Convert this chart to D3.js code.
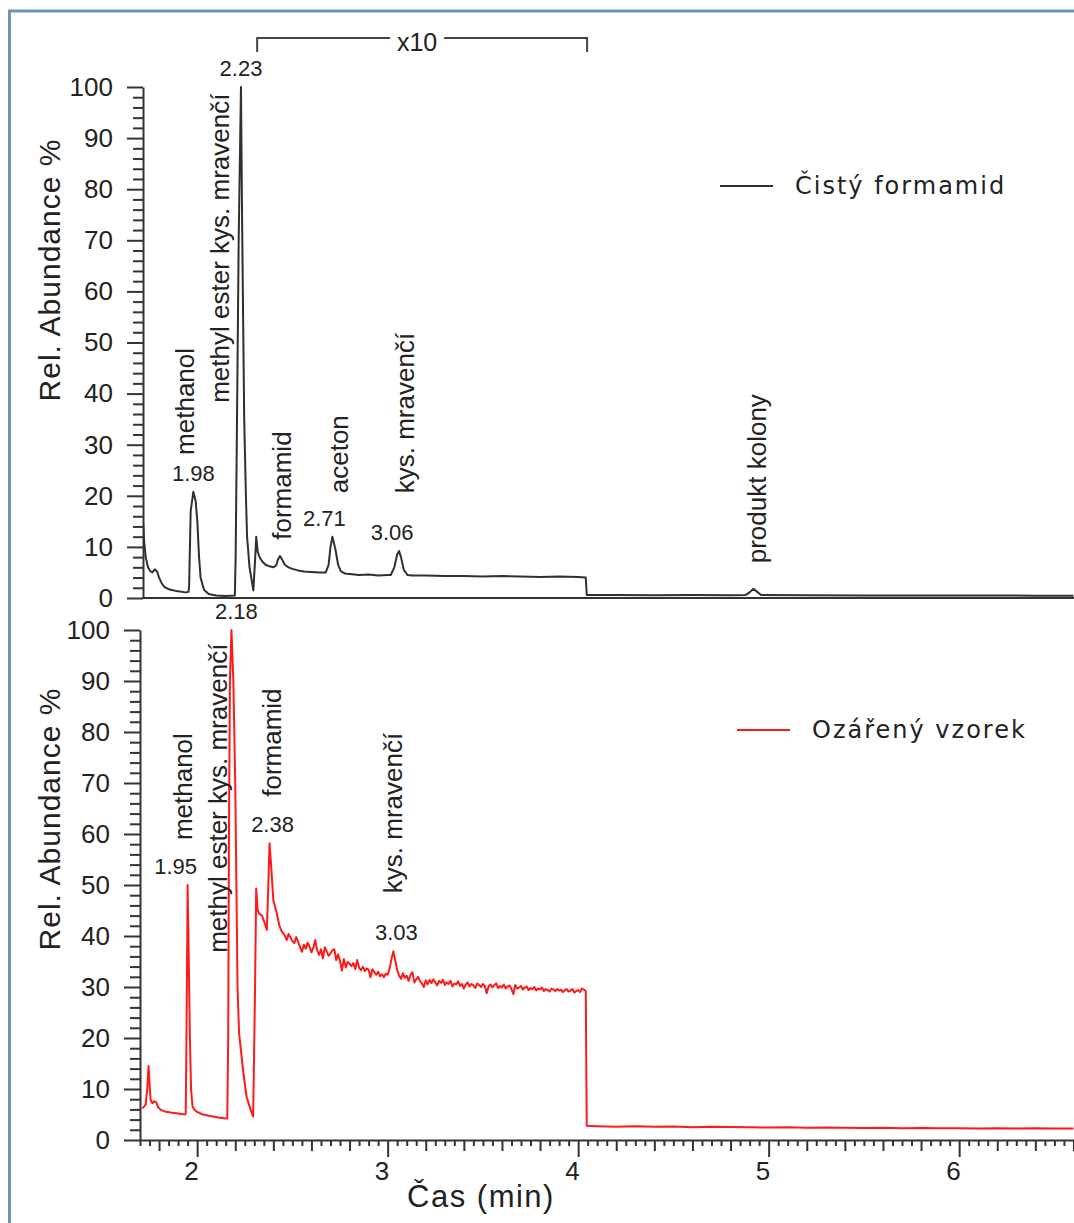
<!DOCTYPE html>
<html>
<head>
<meta charset="utf-8">
<script src="https://cdn.jsdelivr.net/npm/d3@7"></script>
<style>
  html, body { margin: 0; padding: 0; background: #fff; }
  svg { display: block; }
  text { font-family: "Liberation Sans", Arial, sans-serif; fill: #222; }
</style>
</head>
<body>
<div id="chart"></div>
<script>
// Chromatogram of the pure formamide blank: [time (min), relative abundance %]
const blankTrace = [
  [1.717, 14.5], [1.722, 11], [1.73, 8], [1.742, 6], [1.755, 5.2], [1.765, 5.0],
  [1.778, 5.6], [1.79, 5.2], [1.80, 4.0], [1.815, 2.8], [1.83, 2.1], [1.86, 1.6],
  [1.90, 1.3], [1.94, 1.1], [1.955, 1.2], [1.958, 2.5], [1.966, 17], [1.98, 20.8],
  [1.992, 19], [2.001, 15], [2.01, 8], [2.018, 4], [2.036, 1.6], [2.06, 0.8],
  [2.10, 0.5], [2.15, 0.4], [2.198, 0.5], [2.202, 8], [2.208, 30], [2.218, 70],
  [2.23, 100], [2.237, 70], [2.247, 35], [2.256, 20], [2.262, 12], [2.275, 6],
  [2.295, 1.5], [2.305, 8], [2.31, 12], [2.318, 9], [2.33, 7.8], [2.345, 7],
  [2.36, 6.5], [2.38, 6.2], [2.40, 6.0], [2.415, 6.4], [2.425, 7.6], [2.435, 8.2],
  [2.445, 7.6], [2.46, 6.5], [2.48, 6.0], [2.50, 5.7], [2.53, 5.4], [2.56, 5.2],
  [2.60, 5.1], [2.64, 5.0], [2.675, 5.0], [2.69, 6.5], [2.70, 10], [2.71, 12],
  [2.726, 9.5], [2.74, 6.5], [2.755, 5.2], [2.775, 4.8], [2.80, 4.7],
  [2.85, 4.5], [2.90, 4.6], [2.95, 4.4], [3.00, 4.5], [3.016, 4.5], [3.035, 6],
  [3.05, 8.5], [3.06, 9.2], [3.07, 8], [3.085, 5.5], [3.104, 4.5], [3.13, 4.4],
  [3.2, 4.4], [3.3, 4.3], [3.4, 4.3], [3.5, 4.2], [3.6, 4.3], [3.7, 4.2],
  [3.8, 4.1], [3.9, 4.2], [4.0, 4.1], [4.04, 4.0], [4.045, 0.6], [4.2, 0.6],
  [4.4, 0.55], [4.6, 0.6], [4.8, 0.55], [4.88, 0.6], [4.90, 1.1], [4.92, 1.8],
  [4.94, 1.2], [4.96, 0.6], [5.2, 0.55], [5.5, 0.5], [5.8, 0.5], [6.1, 0.5],
  [6.4, 0.45], [6.6, 0.45]
];

// Chromatogram of the irradiated sample: [time (min), relative abundance %]
const irradiatedTrace = [
  [1.712, 6.2], [1.72, 6.5], [1.73, 7.0], [1.738, 10], [1.745, 14.5], [1.75, 11],
  [1.756, 7.8], [1.765, 7.2], [1.775, 7.6], [1.785, 7.4], [1.795, 6.4], [1.81, 5.9],
  [1.83, 5.6], [1.86, 5.4], [1.90, 5.2], [1.935, 5.0], [1.94, 5.2], [1.944, 20],
  [1.95, 50], [1.956, 35], [1.962, 20], [1.968, 10], [1.976, 6.5], [1.99, 5.8],
  [2.0, 5.5], [2.03, 5.0], [2.07, 4.7], [2.11, 4.4], [2.15, 4.2], [2.158, 4.2],
  [2.163, 20], [2.167, 60], [2.172, 90], [2.18, 100], [2.19, 90], [2.20, 70],
  [2.206, 50], [2.212, 30], [2.22, 21], [2.241, 13.7], [2.259, 8.5], [2.28, 6],
  [2.294, 4.6], [2.304, 30],
  [2.31, 49.3], [2.318, 45], [2.325, 44.4], [2.34, 44], [2.355, 42.5], [2.366, 41.2],
  [2.372, 48], [2.38, 58.2], [2.388, 54], [2.40, 47], [2.418, 44.4], [2.432, 42],
  [2.445, 40.8],
  [2.45, 40.6], [2.46, 40.1], [2.47, 39.2], [2.48, 40.4], [2.49, 39.7], [2.50, 39.0],
  [2.51, 38.6], [2.52, 39.8], [2.53, 38.9], [2.54, 37.8], [2.55, 36.9], [2.56, 38.3],
  [2.57, 37.5], [2.58, 38.7], [2.59, 37.9], [2.60, 36.8], [2.61, 37.7], [2.62, 39.2],
  [2.63, 37.2], [2.64, 36.3], [2.65, 37.4], [2.66, 35.6], [2.67, 37.8], [2.68, 37.0],
  [2.69, 36.1], [2.70, 36.6], [2.71, 37.2], [2.72, 37.4], [2.73, 35.3], [2.74, 36.4],
  [2.75, 35.1], [2.76, 33.2], [2.77, 35.5], [2.78, 33.8], [2.79, 34.9], [2.80, 34.6],
  [2.81, 34.1], [2.82, 34.7], [2.83, 33.5], [2.84, 35.3], [2.85, 33.8], [2.86, 33.3],
  [2.87, 34.0], [2.88, 33.1], [2.89, 33.6], [2.90, 33.4], [2.91, 31.9], [2.92, 33.5],
  [2.93, 32.9], [2.94, 32.4], [2.95, 33.0], [2.96, 32.1], [2.97, 32.5], [2.98, 31.9],
  [2.99, 32.6], [3.00, 32.4], [3.01, 33.5], [3.02, 35.5], [3.03, 37.0], [3.04, 35.2],
  [3.05, 33.4], [3.06, 32.2], [3.07, 31.6], [3.08, 32.7], [3.09, 31.8], [3.10, 32.2],
  [3.11, 31.2], [3.12, 32.4], [3.13, 32.9], [3.14, 30.9], [3.15, 31.5], [3.16, 32.0],
  [3.17, 31.1], [3.18, 30.7], [3.19, 30.0], [3.20, 31.3], [3.21, 30.5], [3.22, 31.4],
  [3.23, 30.8], [3.24, 31.5], [3.25, 30.9], [3.26, 30.3], [3.27, 31.2], [3.28, 30.8],
  [3.29, 31.4], [3.30, 30.4], [3.31, 30.9], [3.32, 30.6], [3.33, 31.2], [3.34, 30.1],
  [3.35, 30.7], [3.36, 30.5], [3.37, 31.1], [3.38, 30.2], [3.39, 30.6], [3.40, 29.7],
  [3.41, 30.5], [3.42, 30.9], [3.43, 30.1], [3.44, 30.6], [3.45, 30.3], [3.46, 29.8],
  [3.47, 30.7], [3.48, 30.4], [3.49, 30.0], [3.50, 30.6], [3.51, 30.2], [3.52, 28.8],
  [3.53, 30.1], [3.54, 30.5], [3.55, 29.9], [3.56, 30.4], [3.57, 30.7], [3.58, 29.8],
  [3.59, 30.2], [3.60, 29.9], [3.61, 30.5], [3.62, 29.7], [3.63, 30.1], [3.64, 30.3],
  [3.65, 29.6], [3.66, 28.6], [3.67, 30.4], [3.68, 29.7], [3.69, 29.9], [3.70, 30.2],
  [3.71, 29.5], [3.72, 29.9], [3.73, 30.1], [3.74, 29.4], [3.75, 29.8], [3.76, 29.6],
  [3.77, 30.0], [3.78, 29.3], [3.79, 29.7], [3.80, 29.5], [3.81, 29.9], [3.82, 29.2],
  [3.83, 29.6], [3.84, 29.4], [3.85, 29.1], [3.86, 29.7], [3.87, 29.5], [3.88, 29.2],
  [3.89, 29.6], [3.90, 29.3], [3.91, 29.5], [3.92, 29.0], [3.93, 29.4], [3.94, 29.6],
  [3.95, 29.1], [3.96, 29.3], [3.97, 29.6], [3.98, 28.9], [3.99, 29.2], [4.00, 29.4],
  [4.01, 29.0], [4.02, 29.7], [4.03, 29.5], [4.04, 29.2],
  [4.045, 2.8], [4.1, 2.7], [4.2, 2.6], [4.3, 2.7], [4.4, 2.6], [4.5, 2.65],
  [4.6, 2.5], [4.7, 2.6], [4.8, 2.55], [4.9, 2.5], [5.0, 2.45], [5.1, 2.5],
  [5.2, 2.4], [5.3, 2.45], [5.4, 2.4], [5.5, 2.35], [5.6, 2.4], [5.7, 2.3],
  [5.8, 2.35], [5.9, 2.3], [6.0, 2.3], [6.1, 2.25], [6.2, 2.3], [6.3, 2.25],
  [6.4, 2.3], [6.5, 2.25], [6.6, 2.25]
];

// Retention-time labels of the apexes: [time (min), apex abundance %]
const blankApexes = [[1.98, 20.8], [2.23, 100], [2.71, 12], [3.06, 9.2]];
const irradiatedApexes = [[1.95, 50], [2.18, 100], [2.38, 58.2], [3.03, 37.0]];
// sideways nudges (px) that keep the apex labels clear of each other
const blankApexNudge = [0, 0, -8, -7];
const irradiatedApexNudge = [-12, 5, 3, 3];

// Compound names, anchored at [time (min), abundance % where the text starts]
const blankCompounds = [
  ["methanol", 1.937, 28.0],
  ["methyl ester kys. mravenčí", 2.121, 38.2],
  ["formamid", 2.445, 11.4],
  ["aceton", 2.742, 20.5],
  ["kys. mravenčí", 3.092, 20.5],
  ["produkt kolony", 4.938, 6.8]
];
const irradiatedCompounds = [
  ["methanol", 1.927, 58.8],
  ["methyl ester kys. mravenčí", 2.11, 36.7],
  ["formamid", 2.394, 67.3],
  ["kys. mravenčí", 3.029, 48.4]
];

const seriesNames = ["Čistý formamid", "Ozářený vzorek"];
const seriesColors = ["#303030", "#ff1a1a"];
const yTickValues = [0, 10, 20, 30, 40, 50, 60, 70, 80, 90, 100];
const xTickValues = [2, 3, 4, 5, 6];
const magnifiedRange = [2.315, 4.047];
const magnifiedLabel = "x10";

const W = 1074, H = 1223;
const svg = d3.select("#chart").append("svg").attr("width", W).attr("height", H);

// outer frame
svg.append("rect").attr("x", 9.5).attr("y", 11).attr("width", 1200).attr("height", 1300)
  .attr("fill", "none").attr("stroke", "#7291b8").attr("stroke-width", 3);

const x = d3.scaleLinear().domain([1.7, 6.6]).range([140, 1073.45]);

const panels = [
  { trace: blankTrace, apexes: blankApexes, nudge: blankApexNudge, compounds: blankCompounds,
    y: d3.scaleLinear().domain([0, 100]).range([598, 87]), left: 143, titleY: 270,
    color: seriesColors[0], name: seriesNames[0], legend: [720, 773, 186, 795], xTicks: false },
  { trace: irradiatedTrace, apexes: irradiatedApexes, nudge: irradiatedApexNudge, compounds: irradiatedCompounds,
    y: d3.scaleLinear().domain([0, 100]).range([1140, 630]), left: 140, titleY: 819,
    color: seriesColors[1], name: seriesNames[1], legend: [737, 790, 730, 812], xTicks: true }
];

panels.forEach((p, i) => {
  const g = svg.append("g");
  const clipId = "clip" + i;
  svg.append("clipPath").attr("id", clipId).append("rect")
    .attr("x", p.left).attr("y", 0).attr("width", W - p.left).attr("height", H);

  // y axis: labelled major ticks and minor ticks every 2 %
  const yMajor = d3.axisLeft(p.y).tickValues(yTickValues).tickSize(16).tickSizeOuter(0).tickPadding(14);
  const ya = g.append("g").attr("transform", `translate(${p.left},0)`).call(yMajor);
  const yMinor = d3.axisLeft(p.y).tickValues(d3.range(0, 101, 2).filter(v => v % 10)).tickSize(10)
    .tickSizeOuter(0).tickFormat("");
  const ym = g.append("g").attr("transform", `translate(${p.left},0)`).call(yMinor);
  ym.select(".domain").remove();
  [ya, ym].forEach(a => {
    a.selectAll("line").attr("stroke", "#333").attr("stroke-width", 2);
    a.select(".domain").attr("stroke", "#333").attr("stroke-width", 2);
  });
  ya.selectAll("text").style("font-size", "26px").attr("fill", "#222");

  // x axis line
  const base = p.y(0);
  if (p.xTicks) {
    const ticks = d3.range(34, 133).map(k => k / 20);
    const tickLen = t => {
      const k = Math.round(t * 20);
      return k % 20 === 0 ? 17 : (k % 4 === 0 ? 11 : 6);
    };
    const xa = g.append("g").attr("transform", `translate(0,${base})`)
      .call(d3.axisBottom(x).tickValues(ticks).tickSize(0).tickSizeOuter(0).tickFormat(""));
    xa.select(".domain").attr("stroke", "#333").attr("stroke-width", 2);
    xa.selectAll(".tick line").attr("y2", d => tickLen(d)).attr("stroke", "#333").attr("stroke-width", 2);
    const xl = g.append("g").attr("transform", `translate(0,${base})`)
      .call(d3.axisBottom(x).tickValues(xTickValues).tickSize(0).tickSizeOuter(0)
        .tickPadding(22).tickFormat(d3.format("d")));
    xl.select(".domain").remove();
    xl.selectAll("text").style("font-size", "26px").attr("fill", "#222")
      .attr("text-anchor", "end").attr("dx", "1");
    g.append("text").attr("x", 481).attr("y", 1207).attr("text-anchor", "middle")
      .style("font-size", "31px").style("letter-spacing", "1.5px").text("Čas (min)");
  } else {
    g.append("line").attr("x1", p.left).attr("x2", W).attr("y1", base).attr("y2", base)
      .attr("stroke", "#333").attr("stroke-width", 2);
  }

  // y axis title
  g.append("text").attr("transform", `translate(60,${p.titleY}) rotate(-90)`)
    .attr("text-anchor", "middle").style("font-size", "30px").style("letter-spacing", "1px")
    .text("Rel. Abundance %");

  // trace
  const line = d3.line().x(d => x(d[0])).y(d => p.y(d[1]));
  g.append("path").datum(p.trace).attr("clip-path", `url(#${clipId})`)
    .attr("d", line).attr("fill", "none").attr("stroke", p.color)
    .attr("stroke-width", 2).attr("stroke-linejoin", "round");

  // apex retention times
  g.selectAll(".apex").data(p.apexes).join("text").attr("class", "apex")
    .attr("x", (d, k) => x(d[0]) + p.nudge[k]).attr("y", d => p.y(d[1]) - 11)
    .attr("text-anchor", "middle").style("font-size", "22px")
    .text(d => d[0].toFixed(2));

  // compound names
  g.selectAll(".cmp").data(p.compounds).join("text").attr("class", "cmp")
    .attr("transform", d => `translate(${x(d[1])},${p.y(d[2])}) rotate(-90)`)
    .attr("dy", "0.35em").style("font-size", "26px").text(d => d[0]);

  // legend
  const [lx1, lx2, ly, tx] = p.legend;
  g.append("line").attr("x1", lx1).attr("x2", lx2).attr("y1", ly).attr("y2", ly)
    .attr("stroke", p.color).attr("stroke-width", 2);
  g.append("text").attr("x", tx).attr("y", ly + 8)
    .style("font-family", "'DejaVu Sans', Verdana, sans-serif").style("font-size", "24px")
    .style("letter-spacing", "2px").attr("fill", i === 0 ? "#111" : p.color).text(p.name);
});

// magnified-region bracket
const bx1 = x(magnifiedRange[0]), bx2 = x(magnifiedRange[1]);
const by = 38, bTick = 14;
const textMid = (bx1 + bx2) / 2 - 8;
svg.append("path")
  .attr("d", `M${bx1},${by + bTick}V${by}H${textMid - 24}M${textMid + 30},${by}H${bx2}V${by + bTick}`)
  .attr("fill", "none").attr("stroke", "#444").attr("stroke-width", 2);
svg.append("text").attr("x", textMid + 3).attr("y", by + 13).attr("text-anchor", "middle")
  .style("font-size", "25px").text(magnifiedLabel);
</script>
</body>
</html>
